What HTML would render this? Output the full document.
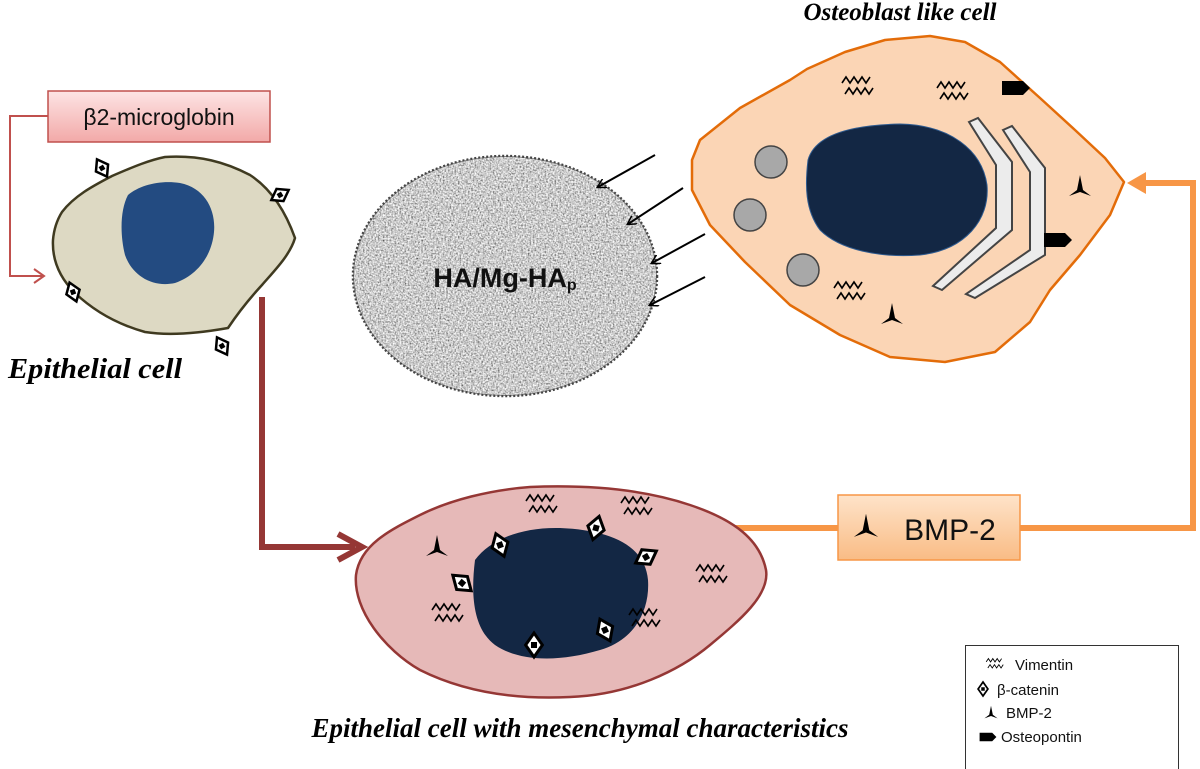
<!DOCTYPE html>
<html><head><meta charset="utf-8"><style>
html,body{margin:0;padding:0;background:#fff;}
svg{display:block;}
</style></head><body>
<svg width="1200" height="769" viewBox="0 0 1200 769" xmlns="http://www.w3.org/2000/svg" font-family="Liberation Sans, sans-serif">
<defs>
<linearGradient id="pk" x1="0" y1="0" x2="0" y2="1"><stop offset="0" stop-color="#fde4e4"/><stop offset="1" stop-color="#f2a9a8"/></linearGradient>
<linearGradient id="or" x1="0" y1="0" x2="0" y2="1"><stop offset="0" stop-color="#fee3c9"/><stop offset="1" stop-color="#f9bc85"/></linearGradient>
<filter id="noise" x="0" y="0" width="100%" height="100%"><feTurbulence type="fractalNoise" baseFrequency="0.6" numOctaves="2" seed="3" result="t"/><feColorMatrix in="t" type="matrix" values="1.5 0 0 0 -0.15  1.5 0 0 0 -0.15  1.5 0 0 0 -0.15  0 0 0 0 1" result="g"/><feComposite in="g" in2="SourceGraphic" operator="in"/></filter>
<g id="dia"><path d="M0,-10 L7,0 L0,10 L-7,0 Z" fill="#fff" stroke="#000" stroke-width="2.5"/><rect x="-2.5" y="-2.5" width="5" height="5" fill="#000"/></g>
<g id="vim" fill="none" stroke="#000" stroke-width="1.6"><path d="M-16,-2 l4,-6 l4,6 l4,-6 l4,6 l4,-6 l4,6 l4,-6"/><path d="M-13,9 l4,-6 l4,6 l4,-6 l4,6 l4,-6 l4,6 l4,-6"/></g>
<path id="bmp" d="M0,-12 L3,3 L11,9 L0,5 L-11,9 L-3,3 Z" fill="#000"/>
<path id="ost" d="M-14,-7 L7,-7 L14,0 L7,7 L-14,7 Z" fill="#000"/>
<marker id="ah" markerWidth="10" markerHeight="10" refX="8" refY="5" orient="auto" markerUnits="userSpaceOnUse"><path d="M0,0 L9,5 L0,10" fill="none" stroke="#000" stroke-width="1.5"/></marker>
</defs>

<polyline points="48,116 10,116 10,276 42,276" fill="none" stroke="#c0504d" stroke-width="2"/>
<path d="M34,269 L44,276 L34,283" fill="none" stroke="#c0504d" stroke-width="2"/>
<rect x="48" y="91" width="222" height="51" fill="url(#pk)" stroke="#c0504d" stroke-width="1.5"/>
<text x="159" y="125" font-size="23" text-anchor="middle" fill="#111">β2-microglobin</text>

<path d="M62,212 C75,195 95,185 112,176 C135,166 150,160 165,157 C200,155 225,162 250,175 C270,188 285,210 295,238 C290,255 275,270 262,285 C250,298 240,310 228,328 C200,333 170,336 145,332 C120,325 95,312 75,293 C60,278 52,260 53,240 C54,228 57,220 62,212 Z" fill="#ddd9c3" stroke="#3f3a20" stroke-width="2.5"/>
<path d="M128,195 C140,185 160,180 180,183 C205,188 216,210 214,232 C212,255 198,275 175,283 C152,288 132,275 125,255 C120,235 120,210 128,195 Z" fill="#234b81"/>
<use href="#dia" transform="translate(102,168) rotate(-30)"/>
<use href="#dia" transform="translate(280,195) rotate(60)"/>
<use href="#dia" transform="translate(73,292) rotate(-20)"/>
<use href="#dia" transform="translate(222,346) rotate(-30)"/>
<text x="8" y="378" font-family="Liberation Serif, serif" font-style="italic" font-weight="bold" font-size="29" textLength="174" lengthAdjust="spacingAndGlyphs">Epithelial cell</text>

<polyline points="262,297 262,547 355,547" fill="none" stroke="#953735" stroke-width="6"/>
<path d="M338,534 L362,547 L338,560" fill="none" stroke="#953735" stroke-width="6"/>

<ellipse cx="505" cy="276" rx="152" ry="120" fill="#8a8a8a" stroke="#444" stroke-width="2.5" stroke-dasharray="2 2"/>
<ellipse cx="505" cy="276" rx="151" ry="119" fill="#999" filter="url(#noise)"/>
<text x="505" y="287" font-size="27" font-weight="bold" text-anchor="middle" fill="#111">HA/Mg-HA<tspan font-size="16" dy="3">p</tspan></text>
<g stroke="#000" stroke-width="2" marker-end="url(#ah)">
<line x1="655" y1="155" x2="598" y2="187"/>
<line x1="683" y1="188" x2="628" y2="224"/>
<line x1="705" y1="234" x2="652" y2="263"/>
<line x1="705" y1="277" x2="650" y2="305"/>
</g>

<text x="900" y="20" font-family="Liberation Serif, serif" font-style="italic" font-weight="bold" font-size="25" text-anchor="middle">Osteoblast like cell</text>
<path d="M700,140 L740,108 L790,80 L807,69 L845,52 L885,40 L930,36 L965,42 L1000,62 L1040,98 L1075,130 L1105,158 L1124,182 L1110,215 L1080,255 L1050,290 L1030,322 L995,352 L945,362 L890,357 L840,335 L790,305 L745,262 L710,225 L692,190 L692,160 Z" fill="#fbd5b5" stroke="#e36c09" stroke-width="2.5" stroke-linejoin="round"/>
<path d="M808,160 C815,135 850,125 900,124 C950,125 982,150 987,185 C990,220 965,250 920,255 C880,258 840,250 820,230 C805,210 805,185 808,160 Z" fill="#132744" stroke="#2f5b8f" stroke-width="1"/>
<g fill="#a8a8a8" stroke="#444" stroke-width="1.5"><circle cx="771" cy="162" r="16"/><circle cx="750" cy="215" r="16"/><circle cx="803" cy="270" r="16"/></g>
<path d="M969,122 L978,118 L1012,162 L1012,230 L942,290 L933,286 L996,228 L996,165 Z" fill="#ececec" stroke="#444" stroke-width="2"/>
<path d="M1003,130 L1012,126 L1045,168 L1045,255 L975,298 L966,294 L1030,250 L1030,172 Z" fill="#ececec" stroke="#444" stroke-width="2"/>
<use href="#vim" transform="translate(858,85)"/>
<use href="#vim" transform="translate(953,90)"/>
<use href="#vim" transform="translate(850,290)"/>
<use href="#ost" transform="translate(1016,88)"/>
<use href="#ost" transform="translate(1058,240)"/>
<use href="#bmp" transform="translate(1080,187)"/>
<use href="#bmp" transform="translate(892,315)"/>

<polyline points="720,528 838,528" fill="none" stroke="#f79646" stroke-width="6"/>
<polyline points="1020,528 1193,528 1193,183 1135,183" fill="none" stroke="#f79646" stroke-width="6"/>
<path d="M1146,172 L1127,183 L1146,194 Z" fill="#f79646"/>
<rect x="838" y="495" width="182" height="65" fill="url(#or)" stroke="#f79646" stroke-width="1.5"/>
<use href="#bmp" transform="translate(866,527) scale(1.1)"/>
<text x="950" y="540" font-size="30" text-anchor="middle" fill="#111">BMP-2</text>

<path d="M356,575 C360,545 390,530 420,515 C450,500 490,490 530,487 C580,485 640,488 690,505 C735,520 760,540 766,570 C770,595 740,620 710,645 C680,670 630,695 570,697 C510,700 460,690 420,670 C385,650 353,610 356,575 Z" fill="#e6b9b8" stroke="#953735" stroke-width="2.5"/>
<path d="M475,560 C490,540 520,527 560,528 C610,530 645,545 648,580 C650,610 635,640 600,650 C560,662 520,662 495,645 C475,630 470,600 475,560 Z" fill="#132744"/>
<use href="#vim" transform="translate(542,503)"/>
<use href="#vim" transform="translate(637,505)"/>
<use href="#vim" transform="translate(712,573)"/>
<use href="#vim" transform="translate(448,612)"/>
<use href="#vim" transform="translate(645,617)"/>
<use href="#bmp" transform="translate(437,547)"/>
<use href="#dia" transform="translate(500,545) rotate(-20) scale(1.2)"/>
<use href="#dia" transform="translate(596,528) rotate(15) scale(1.2)"/>
<use href="#dia" transform="translate(646,557) rotate(60) scale(1.2)"/>
<use href="#dia" transform="translate(462,583) rotate(-50) scale(1.2)"/>
<use href="#dia" transform="translate(534,645) scale(1.2)"/>
<use href="#dia" transform="translate(605,630) rotate(-25) scale(1.2)"/>
<text x="580" y="737" font-family="Liberation Serif, serif" font-style="italic" font-weight="bold" font-size="27" text-anchor="middle">Epithelial cell with mesenchymal characteristics</text>

<rect x="965.5" y="645.5" width="213" height="130" fill="#fff" stroke="#333" stroke-width="1"/>
<g font-size="15" fill="#111">
<g transform="translate(995,663) scale(0.55)"><use href="#vim"/></g>
<text x="1015" y="670">Vimentin</text>
<g transform="translate(983,689) scale(0.7)"><use href="#dia"/></g>
<text x="997" y="695">β-catenin</text>
<g transform="translate(991,713) scale(0.6)"><use href="#bmp"/></g>
<text x="1006" y="718">BMP-2</text>
<g transform="translate(988,737) scale(0.6)"><use href="#ost"/></g>
<text x="1001" y="742">Osteopontin</text>
</g>
</svg>
</body></html>
